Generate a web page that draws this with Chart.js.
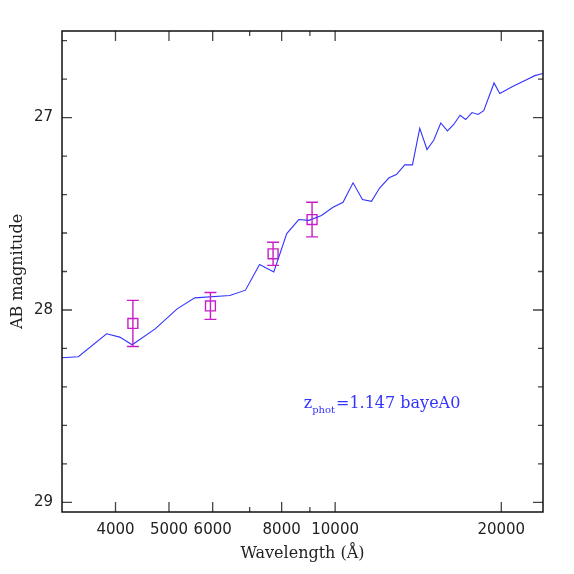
<!DOCTYPE html>
<html>
<head>
<meta charset="utf-8">
<script src="https://cdn.jsdelivr.net/npm/chart.js@4/dist/chart.umd.min.js"></script>
<style>
html,body{margin:0;padding:0;background:#fff;}
#c{display:block;}
</style>
</head>
<body>
<canvas id="c" width="574" height="574"></canvas>
<script>
// ---- data ----
const specWave = [3200,3426,3854,4072,4288,4720,5173,5568,6444,6879,7296,7742,8172,8594,8969,9445,9913,10335,10775,11207,11637,12047,12522,12912,13371,13805,14232,14671,15086,15537,15976,16400,16837,17240,17702,18152,18587,19405,19871,21004,22219,22995,23807];
const specMag = [28.248,28.243,28.124,28.141,28.181,28.098,27.994,27.937,27.925,27.897,27.764,27.802,27.603,27.530,27.534,27.509,27.466,27.440,27.339,27.426,27.435,27.365,27.313,27.296,27.246,27.246,27.056,27.166,27.118,27.028,27.069,27.036,26.988,27.010,26.974,26.984,26.964,26.820,26.875,26.837,26.803,26.782,26.771];
const photWave = [4301, 5944, 7719, 9082];
const photMag = [28.070, 27.979, 27.708, 27.530];
const photErr = [0.12, 0.07, 0.06, 0.09];

const xTickValues = [4000, 5000, 6000, 7000, 8000, 9000, 10000, 20000];
const xTickLabels = ['4000', '5000', '6000', '', '8000', '', '10000', '20000'];
const xMajorTicks = [4000, 5000, 6000, 8000, 10000, 20000];
const yTickValues = [26.6, 26.8, 27.0, 27.2, 27.4, 27.6, 27.8, 28.0, 28.2, 28.4, 28.6, 28.8, 29.0];
const yMajorTicks = [27, 28, 29];
const yTickLabels = ['27', '28', '29'];

const xTitle = 'Wavelength (\u00C5)';
const yTitle = 'AB magnitude';
const noteMain = 'z';
const noteSub = 'phot';
const noteRest = '=1.147 bayeA0';
const noteWave = 8771;
const noteMag = 28.512;

const blue = 'rgb(51,51,255)';
const magenta = 'rgb(200,30,200)';

const decor = {
  id: 'decor',
  afterDatasetsDraw(chart) {
    const ctx = chart.ctx;
    const xs = chart.scales.x, ys = chart.scales.y;
    ctx.save();
    ctx.strokeStyle = magenta;
    ctx.lineWidth = 1.4;
    for (let i = 0; i < photWave.length; i++) {
      const px = xs.getPixelForValue(photWave[i]);
      const y1 = ys.getPixelForValue(photMag[i] - photErr[i]);
      const y2 = ys.getPixelForValue(photMag[i] + photErr[i]);
      ctx.beginPath();
      ctx.moveTo(px, y1); ctx.lineTo(px, y2);
      ctx.moveTo(px - 6, y1); ctx.lineTo(px + 6, y1);
      ctx.moveTo(px - 6, y2); ctx.lineTo(px + 6, y2);
      ctx.stroke();
    }
    ctx.restore();
  },
  afterDraw(chart) {
    const ctx = chart.ctx;
    const a = chart.chartArea;
    const xs = chart.scales.x, ys = chart.scales.y;
    ctx.save();
    // ticks
    ctx.strokeStyle = '#444';
    ctx.lineWidth = 1.3;
    ctx.beginPath();
    xTickValues.forEach(v => {
      const px = xs.getPixelForValue(v);
      const len = xMajorTicks.includes(v) ? 10 : 5;
      ctx.moveTo(px, a.bottom); ctx.lineTo(px, a.bottom - len);
      ctx.moveTo(px, a.top); ctx.lineTo(px, a.top + len);
    });
    yTickValues.forEach(v => {
      const py = ys.getPixelForValue(v);
      const len = yMajorTicks.some(m => Math.abs(m - v) < 1e-6) ? 10 : 5;
      ctx.moveTo(a.left, py); ctx.lineTo(a.left + len, py);
      ctx.moveTo(a.right, py); ctx.lineTo(a.right - len, py);
    });
    ctx.stroke();
    // frame
    ctx.strokeStyle = '#111';
    ctx.lineWidth = 1.5;
    ctx.strokeRect(a.left, a.top, a.right - a.left, a.bottom - a.top);
    // titles
    ctx.fillStyle = '#222';
    ctx.font = '16px "DejaVu Serif"';
    ctx.textAlign = 'center';
    ctx.textBaseline = 'alphabetic';
    ctx.fillText(xTitle, (a.left + a.right) / 2, 558);
    ctx.save();
    ctx.translate(22, (a.top + a.bottom) / 2);
    ctx.rotate(-Math.PI / 2);
    ctx.fillText(yTitle, 0, 0);
    ctx.restore();
    // annotation
    const nx = xs.getPixelForValue(noteWave);
    const ny = ys.getPixelForValue(noteMag);
    ctx.fillStyle = blue;
    ctx.textAlign = 'left';
    ctx.font = '16px "DejaVu Serif"';
    ctx.fillText(noteMain, nx, ny);
    let w = ctx.measureText(noteMain).width;
    ctx.font = '10px "DejaVu Serif"';
    ctx.fillText(noteSub, nx + w, ny + 5);
    w += ctx.measureText(noteSub).width + 1;
    ctx.font = '16px "DejaVu Serif"';
    ctx.fillText(noteRest, nx + w, ny);
    ctx.restore();
  }
};

new Chart(document.getElementById('c'), {
  type: 'scatter',
  data: {
    datasets: [
      {
        type: 'line',
        data: specWave.map((w, i) => ({x: w, y: specMag[i]})),
        borderColor: blue,
        borderWidth: 1.1,
        pointRadius: 0,
        tension: 0,
        fill: false
      },
      {
        type: 'scatter',
        data: photWave.map((w, i) => ({x: w, y: photMag[i]})),
        pointStyle: 'rect',
        pointRadius: 7,
        borderColor: magenta,
        backgroundColor: 'rgba(0,0,0,0)',
        borderWidth: 1.4
      }
    ]
  },
  options: {
    responsive: false,
    animation: false,
    devicePixelRatio: 1,
    layout: {padding: {top: 31, right: 31, left: 0, bottom: 0}},
    plugins: {legend: {display: false}, tooltip: {enabled: false}},
    scales: {
      x: {
        type: 'logarithmic',
        min: 3200,
        max: 23800,
        grid: {display: false, drawTicks: false},
        border: {display: false},
        afterBuildTicks: s => { s.ticks = xTickValues.map(v => ({value: v})); },
        afterFit: s => { s.height = 62; },
        ticks: {
          autoSkip: false, maxRotation: 0, minRotation: 0,
          padding: 9,
          color: '#222',
          font: {family: '"DejaVu Sans"', size: 15},
          callback: (v) => { const i = xTickValues.indexOf(v); return i >= 0 ? xTickLabels[i] : ''; }
        }
      },
      y: {
        type: 'linear',
        reverse: true,
        min: 26.55,
        max: 29.05,
        grid: {display: false, drawTicks: false},
        border: {display: false},
        afterBuildTicks: s => { s.ticks = yMajorTicks.map(v => ({value: v})); },
        afterFit: s => { s.width = 62; },
        ticks: {
          autoSkip: false,
          padding: 9,
          color: '#222',
          font: {family: '"DejaVu Sans"', size: 15},
          callback: (v) => { const i = yMajorTicks.indexOf(v); return i >= 0 ? yTickLabels[i] : ''; }
        }
      }
    }
  },
  plugins: [decor]
});
</script>
</body>
</html>
